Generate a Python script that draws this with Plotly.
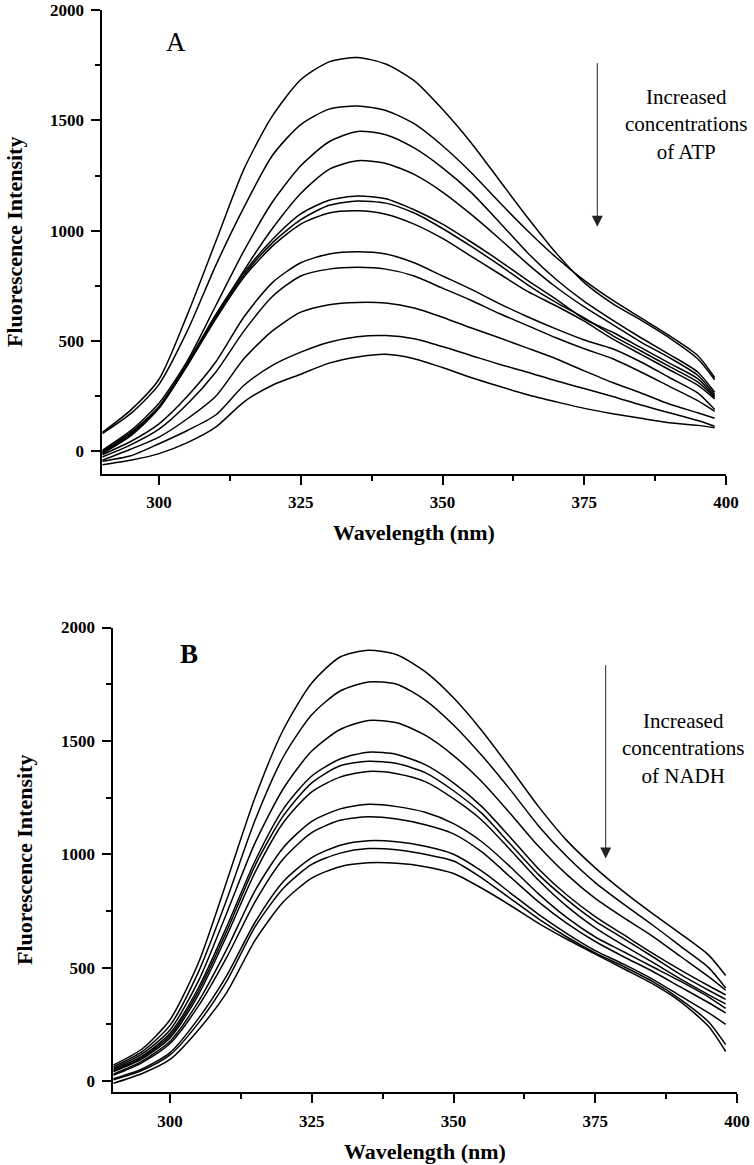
import plotly.graph_objects as go

# ---------------- data ----------------
WAVELENGTH = [290, 295, 300, 305, 310, 315, 320, 325, 330, 335, 340, 345,
              350, 355, 360, 365, 370, 375, 380, 385, 390, 395, 398]

X_TICKS = [300, 325, 350, 375, 400]
X_MINOR = [312.5, 337.5, 362.5, 387.5]
Y_TICKS = [0, 500, 1000, 1500, 2000]
Y_MINOR = [250, 750, 1250, 1750]

# Panel A : increasing ATP
A1 = [86, 187, 327, 620, 950, 1280, 1520, 1684, 1765, 1785, 1755, 1680, 1550, 1400, 1230, 1060, 900, 765, 670, 595, 515, 420, 325]
A2 = [81, 171, 304, 546, 842, 1107, 1341, 1481, 1551, 1565, 1545, 1485, 1385, 1265, 1130, 1000, 880, 775, 685, 605, 525, 435, 335]
A3 = [5, 94, 218, 410, 660, 910, 1130, 1294, 1403, 1450, 1435, 1375, 1285, 1175, 1040, 900, 780, 680, 595, 515, 440, 360, 268]
A4 = [0, 85, 203, 390, 610, 820, 1010, 1169, 1278, 1317, 1305, 1255, 1175, 1075, 965, 850, 745, 655, 575, 495, 425, 345, 258]
A5 = [-5, 80, 203, 400, 620, 810, 960, 1076, 1138, 1157, 1145, 1095, 1030, 950, 865, 775, 690, 600, 540, 470, 400, 330, 250]
A6 = [-8, 75, 200, 395, 610, 800, 945, 1050, 1115, 1135, 1125, 1080, 1010, 930, 845, 755, 675, 605, 525, 455, 385, 315, 245]
A7 = [-10, 70, 195, 390, 600, 790, 930, 1030, 1080, 1090, 1075, 1030, 965, 885, 805, 725, 660, 590, 510, 440, 370, 300, 238]
A8 = [-15, 45, 125, 250, 405, 610, 765, 855, 895, 905, 895, 855, 795, 735, 670, 610, 555, 505, 465, 405, 335, 265, 190]
A9 = [-25, 30, 101, 215, 359, 546, 702, 795, 826, 834, 826, 795, 740, 685, 625, 570, 515, 465, 420, 360, 295, 230, 182]
A10 = [-40, 10, 65, 148, 250, 421, 546, 631, 665, 675, 672, 650, 608, 560, 515, 468, 420, 365, 312, 265, 215, 175, 150]
A11 = [-45, -20, 35, 95, 165, 300, 390, 450, 495, 520, 525, 510, 475, 435, 395, 359, 320, 285, 249, 210, 175, 140, 114]
A12 = [-60, -40, -10, 40, 110, 225, 300, 350, 400, 428, 440, 420, 380, 335, 295, 257, 225, 195, 171, 150, 130, 118, 107]

# Panel B : increasing NADH
B1 = [70, 140, 270, 520, 880, 1250, 1550, 1755, 1870, 1900, 1880, 1805, 1690, 1545, 1380, 1210, 1060, 940, 835, 740, 650, 555, 465]
B2 = [62, 128, 245, 480, 800, 1150, 1430, 1615, 1720, 1760, 1750, 1680, 1570, 1435, 1285, 1125, 990, 875, 780, 690, 595, 500, 410]
B3 = [55, 118, 225, 440, 740, 1050, 1290, 1455, 1550, 1590, 1580, 1525, 1435, 1320, 1180, 1035, 910, 805, 720, 640, 550, 460, 400]
B4 = [50, 108, 210, 410, 680, 970, 1200, 1345, 1420, 1450, 1440, 1395, 1315, 1210, 1075, 935, 820, 725, 645, 565, 490, 420, 380]
B5 = [45, 102, 200, 395, 660, 950, 1170, 1315, 1390, 1410, 1400, 1360, 1280, 1180, 1045, 910, 800, 705, 628, 550, 470, 400, 360]
B6 = [40, 96, 190, 380, 640, 920, 1140, 1275, 1340, 1365, 1355, 1320, 1245, 1150, 1020, 885, 770, 675, 598, 525, 450, 380, 340]
B7 = [30, 86, 175, 350, 580, 840, 1030, 1145, 1200, 1220, 1210, 1185, 1135, 1055, 945, 825, 720, 635, 570, 505, 440, 370, 320]
B8 = [25, 80, 165, 330, 545, 790, 980, 1095, 1150, 1165, 1155, 1130, 1090, 1010, 900, 790, 695, 615, 548, 485, 415, 345, 300]
B9 = [10, 52, 125, 275, 465, 700, 880, 985, 1040, 1060, 1055, 1035, 1000, 925, 830, 735, 650, 575, 515, 450, 375, 300, 250]
B10 = [5, 46, 115, 255, 440, 680, 850, 955, 1005, 1025, 1020, 1000, 970, 895, 805, 715, 635, 565, 505, 440, 360, 260, 160]
B11 = [-10, 32, 95, 225, 390, 620, 790, 895, 945, 962, 960, 945, 915, 850, 775, 695, 625, 560, 495, 430, 350, 240, 130]

PANEL_A = [A1, A2, A3, A4, A5, A6, A7, A8, A9, A10, A11, A12]
PANEL_B = [B1, B2, B3, B4, B5, B6, B7, B8, B9, B10, B11]

# ---------------- figure ----------------
W, H = 754, 1165
SERIF = "Liberation Serif"

fig = go.Figure()
for ys in PANEL_A:
    fig.add_trace(go.Scatter(x=WAVELENGTH, y=ys, mode="lines", xaxis="x", yaxis="y",
                             line=dict(color="black", width=1.5, shape="spline", smoothing=0.7),
                             showlegend=False, hoverinfo="skip"))
for ys in PANEL_B:
    fig.add_trace(go.Scatter(x=WAVELENGTH, y=ys, mode="lines", xaxis="x2", yaxis="y2",
                             line=dict(color="black", width=1.5, shape="spline", smoothing=0.7),
                             showlegend=False, hoverinfo="skip"))


def px(x):
    return x / W


def py(y):
    return 1 - y / H


tickfont = dict(family=SERIF, size=17, color="black", weight="bold")


def xax(domain, anchor):
    return dict(domain=domain, anchor=anchor, range=[290, 400],
                tickmode="array", tickvals=X_TICKS, ticktext=[str(v) for v in X_TICKS],
                showline=True, linecolor="black", linewidth=2,
                ticks="outside", ticklen=9, tickwidth=2, tickcolor="black",
                minor=dict(tickmode="array", tickvals=X_MINOR, ticks="outside",
                           ticklen=5, tickwidth=2, tickcolor="black"),
                showgrid=False, zeroline=False, tickfont=tickfont,
                ticklabelstandoff=3, automargin=False, fixedrange=True)


def yax(domain, anchor, rng):
    return dict(domain=domain, anchor=anchor, range=rng,
                tickmode="array", tickvals=Y_TICKS, ticktext=[str(v) for v in Y_TICKS],
                showline=True, linecolor="black", linewidth=2,
                ticks="outside", ticklen=9, tickwidth=2, tickcolor="black",
                minor=dict(tickmode="array", tickvals=Y_MINOR, ticks="outside",
                           ticklen=5, tickwidth=2, tickcolor="black"),
                showgrid=False, zeroline=False, tickfont=tickfont,
                ticklabelstandoff=4, automargin=False, fixedrange=True)


fig.update_layout(
    width=W, height=H,
    margin=dict(l=0, r=0, t=0, b=0),
    paper_bgcolor="white", plot_bgcolor="white",
    showlegend=False,
    xaxis=xax([px(102.3), px(726)], "y"),
    yaxis=yax([py(473.5), py(10)], "x", [-100, 2000]),
    xaxis2=xax([px(113.3), px(737)], "y2"),
    yaxis2=yax([py(1092.3), py(627.5)], "x2", [-50, 2000]),
)

title_font = dict(family=SERIF, size=22, color="black", weight="bold")
note_font = dict(family=SERIF, size=21, color="black")

annotations = [
    # panel letters
    dict(text="A", x=px(176), y=py(42), font=dict(family=SERIF, size=27, color="black")),
    dict(text="B", x=px(189), y=py(654), font=dict(family=SERIF, size=27, color="black", weight="bold")),
    # axis titles panel A
    dict(text="Fluorescence Intensity", x=px(14), y=py(242), textangle=-90, font=title_font),
    dict(text="Wavelength (nm)", x=px(414), y=py(532), font=title_font),
    # axis titles panel B
    dict(text="Fluorescence Intensity", x=px(24), y=py(860), textangle=-90, font=title_font),
    dict(text="Wavelength (nm)", x=px(425), y=py(1151), font=title_font),
    # notes
    dict(text="Increased<br>concentrations<br>of ATP", x=px(686), y=py(124), font=note_font, align="center"),
    dict(text="Increased<br>concentrations<br>of NADH", x=px(683), y=py(748), font=note_font, align="center"),
]
for a in annotations:
    a.update(xref="paper", yref="paper", showarrow=False, xanchor="center", yanchor="middle")

# arrows
arrows = [
    dict(x=px(597.3), y=py(226.7), ax=0, ay=-165),
    dict(x=px(605.7), y=py(858.6), ax=0, ay=-195),
]
for a in arrows:
    a.update(xref="paper", yref="paper", text="", showarrow=True, arrowhead=2,
             arrowsize=2.2, arrowwidth=1, arrowcolor="#222222", standoff=0)

fig.update_layout(annotations=annotations + arrows)

# remove the default 8px page margin so the figure fills the window exactly
fig.write_html("out.html",
               config={"displayModeBar": False},
               post_script="document.body.style.margin='0';document.body.style.overflow='hidden';")
